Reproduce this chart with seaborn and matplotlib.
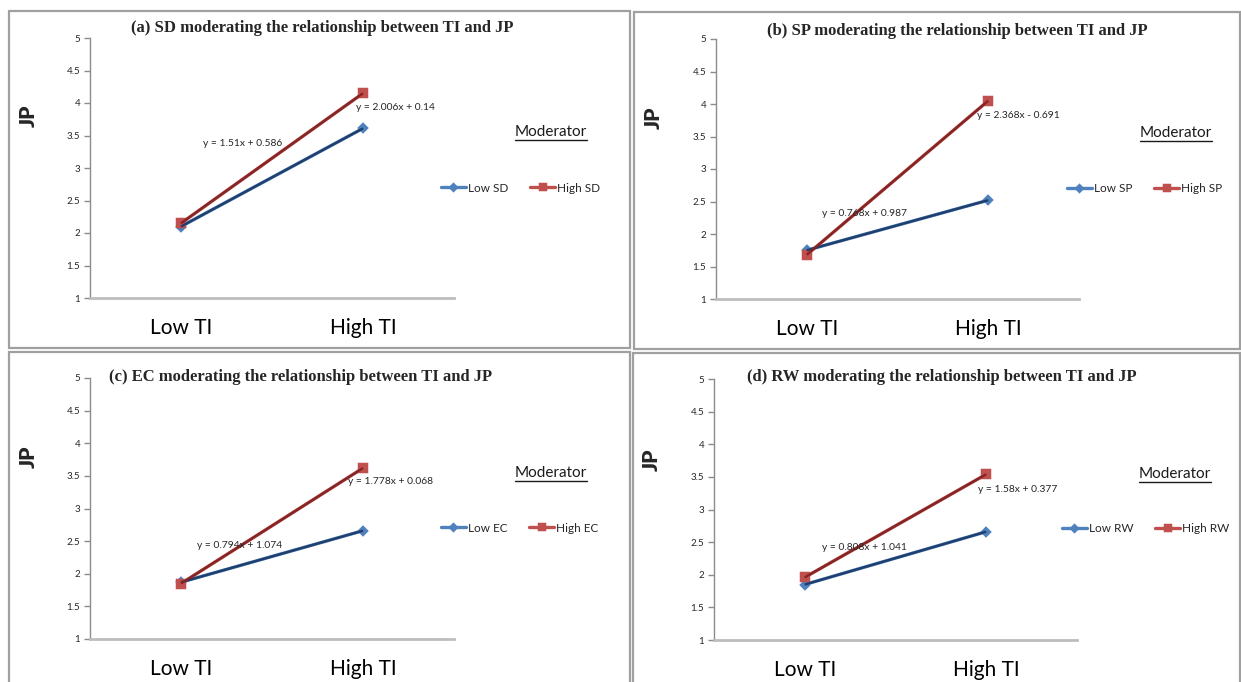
import numpy as np
import pandas as pd
import matplotlib
matplotlib.use("Agg")
import matplotlib.pyplot as plt
import seaborn as sns
from matplotlib.patches import Rectangle
from matplotlib.lines import Line2D
from matplotlib.ticker import FuncFormatter

# categories on the x axis
ti_levels = ['Low TI', 'High TI']
moderators = ['SD', 'SP', 'EC', 'RW']
letters = ['a', 'b', 'c', 'd']

# JP means (Low TI, High TI)
low_sd = [2.10, 3.61]
high_sd = [2.15, 4.15]
low_sp = [1.75, 2.52]
high_sp = [1.68, 4.05]
low_ec = [1.87, 2.66]
high_ec = [1.85, 3.62]
low_rw = [1.85, 2.66]
high_rw = [1.96, 3.54]

# trendline labels
eq_low = ['y = 1.51x + 0.586', 'y = 0.768x + 0.987', 'y = 0.794x + 1.074', 'y = 0.808x + 1.041']
eq_high = ['y = 2.006x + 0.14', 'y = 2.368x - 0.691', 'y = 1.778x + 0.068', 'y = 1.58x + 0.377']

y_ticks = [1, 1.5, 2, 2.5, 3, 3.5, 4, 4.5, 5]

lows = [low_sd, low_sp, low_ec, low_rw]
highs = [high_sd, high_sp, high_ec, high_rw]

W, H = 1241, 682
sns.set_style("white")
plt.rcParams['font.family'] = ['Lato', 'DejaVu Sans']

fig = plt.figure(figsize=(W / 100, H / 100), dpi=100)

# pixel layout of each panel
layout = [
    dict(box=(9, 11, 630, 348), ax=(90, 38, 454, 298), title=(322, 28), jp=(28, 116),
         mod=(551, 132), leg=(441, 188), eql=(243, 143), eqh=(395, 107)),
    dict(box=(634, 12, 1240, 349), ax=(716, 39, 1079, 299), title=(957, 31), jp=(653, 118),
         mod=(1176, 133), leg=(1067, 189), eql=(865, 214), eqh=(1018, 115)),
    dict(box=(9, 352, 630, 690), ax=(90, 378, 454, 639), title=(301, 377), jp=(28, 457),
         mod=(551, 473), leg=(441, 528), eql=(240, 545), eqh=(391, 482)),
    dict(box=(633, 353, 1240, 690), ax=(714, 379, 1077, 640), title=(942, 377), jp=(651, 460),
         mod=(1175, 474), leg=(1062, 529), eql=(864, 547), eqh=(1018, 489)),
]


def fx(x):
    return x / W


def fy(y):
    return 1 - y / H


light = ['#4F81BD', '#C0504D']
dark = ['#1F3E6B', '#842525']

mod_texts = []
for i, lay in enumerate(layout):
    m = moderators[i]
    l, t, r, b = lay['box']
    fig.patches.append(Rectangle((fx(l), fy(b)), fx(r - l), (b - t) / H, transform=fig.transFigure,
                                 fill=False, edgecolor='#A0A0A0', linewidth=1.6))

    al, at, ar, ab = lay['ax']
    ax = fig.add_axes([fx(al), fy(ab), fx(ar - al), (ab - at) / H])

    df = pd.DataFrame({
        'TI': ti_levels * 2,
        'JP': lows[i] + highs[i],
        'group': ['Low ' + m] * 2 + ['High ' + m] * 2,
    })
    sns.pointplot(data=df, x='TI', y='JP', hue='group', order=ti_levels,
                  hue_order=['Low ' + m, 'High ' + m], palette=light,
                  markers=['D', 's'], linestyles='-', errorbar=None, dodge=False,
                  markersize=4, linewidth=2.4, ax=ax)
    # markers sizes differ in the original
    for ln in ax.lines:
        if ln.get_marker() == 's':
            ln.set_markersize(5.5)
        elif ln.get_marker() == 'D':
            ln.set_markersize(3.8)

    handles, labels = ax.get_legend_handles_labels()
    ax.get_legend().remove()

    # linear trendlines on top
    xs = np.arange(len(ti_levels))
    for vals, c in zip([lows[i], highs[i]], dark):
        k, c0 = np.polyfit(xs, vals, 1)
        ax.plot(xs, k * xs + c0, color=c, linewidth=1.7, solid_capstyle='butt', zorder=5)

    ax.set_xlim(-0.5, 1.5)
    ax.set_ylim(1, 5)
    ax.set_yticks(y_ticks)
    ax.yaxis.set_major_formatter(FuncFormatter(lambda v, p: f'{v:g}'))
    ax.set_xticks(xs)
    ax.set_xticklabels(ti_levels, fontsize=15, color='black')
    ax.set_xticks([-0.5, 0.5, 1.5], minor=True)
    ax.tick_params(axis='x', which='major', length=0, pad=14.5)
    ax.tick_params(axis='x', which='minor', length=6, width=1, color='#8C8C8C', direction='out')
    ax.tick_params(axis='y', length=4, width=1, color='#8C8C8C', direction='out',
                   labelsize=7, pad=3, left=True)
    ax.set_xlabel('')
    ax.set_ylabel('')
    for s in ['top', 'right']:
        ax.spines[s].set_visible(False)
    ax.spines['left'].set_color('#8C8C8C')
    ax.spines['left'].set_linewidth(1)
    ax.spines['bottom'].set_color('#BDBDBD')
    ax.spines['bottom'].set_linewidth(2)
    ax.set_facecolor('none')

    fig.text(fx(lay['title'][0]), fy(lay['title'][1]),
             f'({letters[i]}) {m} moderating the relationship between TI and JP',
             family='Liberation Serif', weight='bold', fontsize=12, ha='center', va='center')
    fig.text(fx(lay['jp'][0]), fy(lay['jp'][1]), 'JP', fontsize=15, weight='heavy',
             rotation=90, ha='center', va='center')
    mt = fig.text(fx(lay['mod'][0]), fy(lay['mod'][1]), 'Moderator', fontsize=11,
                  ha='center', va='center', color='#1a1a1a')
    mod_texts.append(mt)
    fig.text(fx(lay['eql'][0]), fy(lay['eql'][1]), eq_low[i], fontsize=7.4,
             ha='center', va='center', zorder=10)
    fig.text(fx(lay['eqh'][0]), fy(lay['eqh'][1]), eq_high[i], fontsize=7.4,
             ha='center', va='center', zorder=10)

    ax.legend(handles, labels, loc='center left', bbox_to_anchor=(fx(lay['leg'][0]), fy(lay['leg'][1])),
              bbox_transform=fig.transFigure, ncol=2, frameon=False, fontsize=8.5,
              handlelength=2.1, handletextpad=0.15, columnspacing=1.9, borderpad=0,
              borderaxespad=0, markerscale=0.9)

# underline the "Moderator" headers
fig.canvas.draw()
rend = fig.canvas.get_renderer()
for mt in mod_texts:
    bb = mt.get_window_extent(rend)
    y0 = bb.y0 - 1
    fig.add_artist(Line2D([bb.x0 / W, bb.x1 / W], [y0 / H, y0 / H], transform=fig.transFigure,
                          color='#1a1a1a', linewidth=1))

fig.savefig('out.png', dpi=100)
